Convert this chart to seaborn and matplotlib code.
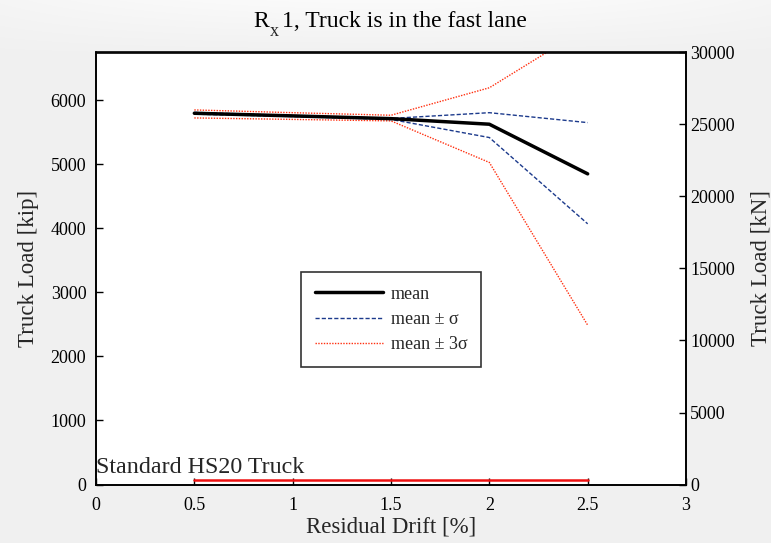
import numpy as np
import pandas as pd
import matplotlib
matplotlib.use("Agg")
import matplotlib.pyplot as plt
import seaborn as sns

# Residual drift levels [%]
drift = [0.5, 1.0, 1.5, 2.0, 2.5]

# Truck load capacity [kip]
mean_load = [5796, 5755, 5712, 5625, 4850]
plus_sigma = [5810, 5760, 5715, 5805, 5650]
minus_sigma = [5782, 5745, 5700, 5417, 4070]
plus_3sigma = [5848, 5805, 5765, 6194, 7140]
minus_3sigma = [5723, 5700, 5677, 5028, 2488]

# Standard HS20 design truck [kip]
hs20_load = [72, 72, 72, 72, 72]

KIP_TO_KN = 4.448
y_max_kn = 30000

sns.set_theme(style="white")
plt.rcParams["font.family"] = ["Liberation Serif", "DejaVu Serif"]

df = pd.DataFrame({
    "drift": drift,
    "mean": mean_load,
    "p1": plus_sigma,
    "m1": minus_sigma,
    "p3": plus_3sigma,
    "m3": minus_3sigma,
    "hs20": hs20_load,
})

W, H = 771, 543
fig = plt.figure(figsize=(W / 100, H / 100), dpi=100, facecolor="#f0f0f0")

# soft light band across the top of the window
grad = np.linspace(0, 1, 60)[:, None] * np.ones((1, W))
xx = np.linspace(-1, 1, W)[None, :]
bright = (1 - grad) * (1 - 0.5 * xx ** 2)
base = np.array([0xf0, 0xf0, 0xf0]) / 255.0
rgb = base[None, None, :] + (1.0 - base)[None, None, :] * 0.7 * bright[:, :, None]
fig.figimage(rgb, xo=0, yo=H - 60, origin="upper", zorder=-10)

ax = fig.add_axes([96 / W, 1 - 484.5 / H, 590 / W, 432 / H])
ax.set_facecolor("white")

blue = "#1c3a8c"
red = "#ff3010"

sns.lineplot(data=df, x="drift", y="p3", ax=ax, color=red, lw=1.0,
             linestyle=(0, (1, 1)), label="mean ± 3σ")
sns.lineplot(data=df, x="drift", y="m3", ax=ax, color=red, lw=1.0,
             linestyle=(0, (1, 1)), label="_nolegend_")
sns.lineplot(data=df, x="drift", y="p1", ax=ax, color=blue, lw=1.0,
             linestyle=(0, (3, 1.5)), label="mean ± σ")
sns.lineplot(data=df, x="drift", y="m1", ax=ax, color=blue, lw=1.0,
             linestyle=(0, (3, 1.5)), label="_nolegend_")
sns.lineplot(data=df, x="drift", y="mean", ax=ax, color="black", lw=2.5,
             label="mean")
sns.lineplot(data=df, x="drift", y="hs20", ax=ax, color="#ee1111", lw=1.8,
             label="_nolegend_")

ax.text(0.0, 100, "Standard HS20 Truck", fontsize=17.3, ha="left",
        va="bottom")

ax.set_xlim(0, 3)
ax.set_ylim(0, y_max_kn / KIP_TO_KN)
ax.set_xticks([0, 0.5, 1, 1.5, 2, 2.5, 3])
ax.set_xticklabels(["0", "0.5", "1", "1.5", "2", "2.5", "3"])
ax.set_yticks([0, 1000, 2000, 3000, 4000, 5000, 6000])
ax.tick_params(axis="y", direction="in", length=5, width=1, labelsize=13,
               colors="black", pad=7, left=True)
ax.tick_params(axis="x", direction="in", length=5, width=1, labelsize=13,
               colors="black", pad=9, bottom=True)
ax.set_xlabel("Residual Drift [%]", fontsize=16.5, labelpad=2)
ax.set_ylabel("Truck Load [kip]", fontsize=16.5, labelpad=8)

for s in ax.spines.values():
    s.set_color("black")
    s.set_linewidth(1.2)

ax2 = ax.twinx()
ax2.set_ylim(0, y_max_kn)
ax2.set_yticks([0, 5000, 10000, 15000, 20000, 25000, 30000])
ax2.tick_params(direction="in", length=5, width=1, labelsize=13,
                colors="black", pad=3, right=True)
ax2.set_ylabel("Truck Load [kN]", fontsize=16.5, labelpad=11)
ax2.grid(False)
for s in ax2.spines.values():
    s.set_color("black")
    s.set_linewidth(1.2)

# title with a lowered subscript on the R
title_kw = dict(fontsize=17, va="baseline", color="black")
fig.text(253 / W, 1 - 27 / H, "R", ha="left", **title_kw)
fig.text(270 / W, 1 - 36 / H, "x", ha="left", fontsize=13, va="baseline")
fig.text(282 / W, 1 - 27 / H, "1, Truck is in the fast lane", ha="left",
         **title_kw)

handles, labels = ax.get_legend_handles_labels()
order = [labels.index("mean"), labels.index("mean ± σ"),
         labels.index("mean ± 3σ")]
leg = ax.legend([handles[i] for i in order], [labels[i] for i in order],
                loc="lower left", bbox_to_anchor=(0.348, 0.273),
                fontsize=13, frameon=True, fancybox=False, handlelength=3.8,
                borderpad=0.75, labelspacing=0.45, handletextpad=0.4,
                borderaxespad=0)
leg.get_frame().set_edgecolor("black")
leg.get_frame().set_linewidth(1.2)

fig.savefig("out.png", dpi=100, facecolor=fig.get_facecolor())
